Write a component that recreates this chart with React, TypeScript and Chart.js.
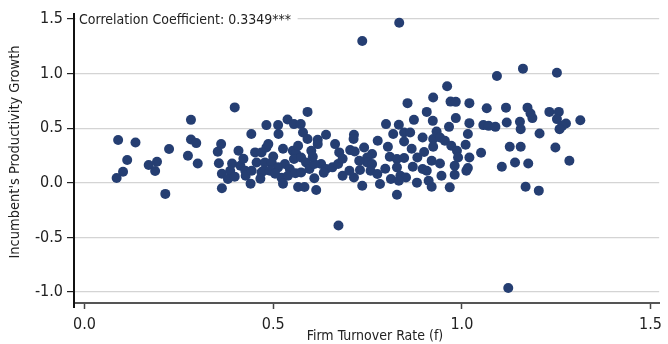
import React, { useEffect, useRef } from "react";
import { Chart, registerables } from "chart.js";

Chart.register(...registerables);

// Firm turnover rate (x) and incumbent productivity growth (y), one entry per observation
const TURNOVER_RATE: number[] = [
  0.089, 0.135, 0.113, 0.102, 0.085, 0.170, 0.192, 0.187, 0.224, 0.214, 0.282, 0.282, 0.296, 0.274, 0.300,
  0.398, 0.442, 0.482, 0.362, 0.353, 0.356, 0.391, 0.364, 0.386, 0.380, 0.398, 0.413, 0.426, 0.427, 0.443,
  0.452, 0.456, 0.469, 0.469, 0.478, 0.364, 0.482,
  0.513, 0.514, 0.538, 0.555, 0.573, 0.591, 0.579, 0.591, 0.618, 0.640, 0.487, 0.500, 0.496, 0.552, 0.561,
  0.601, 0.618, 0.555, 0.574, 0.531, 0.513, 0.544, 0.587, 0.627, 0.474, 0.491, 0.522, 0.539, 0.559, 0.574,
  0.596, 0.609, 0.566, 0.583, 0.614, 0.609,
  0.856, 0.907, 0.923, 0.924, 0.799, 0.833, 0.873, 0.818, 0.847, 0.863, 0.847, 0.896, 0.924, 0.664, 0.675,
  0.714, 0.713, 0.704, 0.716, 0.741, 0.777, 0.762, 0.749, 0.640, 0.657, 0.672, 0.684, 0.714, 0.730, 0.749,
  0.762, 0.758, 0.776, 0.783, 0.809, 0.828, 0.847, 0.828, 0.812, 0.837, 0.852, 0.833, 0.828, 0.870, 0.882,
  0.900, 0.896, 0.920, 0.912, 0.920,
  1.093, 1.162, 0.961, 0.970, 0.984, 1.020, 1.066, 1.117, 1.174, 1.182, 1.187, 0.984, 1.020, 1.057, 1.071,
  1.089, 1.119, 1.154, 1.156, 1.206, 0.966, 0.933, 0.942, 0.955, 0.972, 1.016, 1.010, 0.924, 0.987, 0.990,
  1.020, 1.051, 1.127, 1.156, 0.942, 0.981, 1.016, 1.106, 1.141, 1.176, 0.981, 0.907, 0.968, 1.169, 1.204,
  1.252, 1.232, 1.257, 1.252, 1.276, 1.266, 1.259, 1.314, 1.248, 1.285,
  0.673, 1.123, 0.736, 0.834,
  0.421, 0.466, 0.505, 0.526, 0.566, 0.526, 0.605, 0.634, 0.440, 0.408, 0.684, 0.728, 0.797, 0.804, 0.867,
  0.881, 0.736, 0.702, 1.012, 0.946,
];

const PRODUCTIVITY_GROWTH: number[] = [
  0.392, 0.370, 0.209, 0.102, 0.045, 0.163, 0.194, 0.109, 0.310, -0.101, 0.577, 0.397, 0.364, 0.248, 0.178,
  0.691, 0.447, 0.529, 0.355, 0.285, 0.180, 0.178, 0.084, 0.111, 0.036, 0.057, 0.157, 0.111, 0.066, 0.111,
  0.279, 0.187, 0.279, 0.096, 0.187, -0.050, 0.324,
  0.529, 0.447, 0.581, 0.538, 0.538, 0.650, 0.461, 0.401, 0.395, 0.440, 0.355, 0.241, 0.187, 0.294, 0.267,
  0.294, 0.355, 0.218, 0.233, 0.173, 0.142, 0.127, 0.187, 0.173, 0.111, 0.111, 0.047, 0.066, 0.089, 0.096,
  0.127, 0.043, -0.037, -0.037, -0.065, 0.173,
  0.730, 0.650, 0.568, 0.781, 0.538, 0.532, 0.577, 0.447, 0.461, 0.461, 0.379, 0.416, 0.401, 0.355, 0.279,
  0.440, 0.401, 0.300, 0.288, 0.324, 0.385, 0.264, 0.233, 0.127, 0.142, 0.173, 0.066, 0.050, 0.118, 0.187,
  0.173, 0.111, 0.081, -0.010, 0.239, 0.218, 0.227, 0.142, 0.036, 0.066, 0.050, 0.020, -0.108, 0.148, 0.233,
  0.282, 0.127, 0.203, 0.020, -0.035,
  0.979, 1.046, 0.885, 0.744, 0.742, 0.730, 0.684, 0.689, 0.689, 0.635, 0.593, 0.593, 0.547, 0.529, 0.522,
  0.513, 0.553, 0.559, 0.492, 0.452, 0.513, 0.470, 0.416, 0.385, 0.340, 0.447, 0.349, 0.331, 0.294, 0.233,
  0.233, 0.276, 0.331, 0.331, 0.178, 0.157, 0.136, 0.148, 0.187, 0.178, 0.075, 0.111, -0.041, -0.035, -0.071,
  1.009, 0.650, 0.650, 0.584, 0.543, 0.522, 0.492, 0.574, 0.324, 0.203,
  -0.391, -0.963, 1.299, 1.466,
  0.221, 0.038, 0.084, 0.312, 0.340, -0.007, 0.239, 0.093, -0.007, 0.294, 0.221, 0.203, 0.130, 0.331, 0.312,
  0.002, -0.026, 0.111, 0.111, 0.066,
];

const X_TICKS = [0, 0.5, 1.0, 1.5];
const Y_TICKS = [-1.0, -0.5, 0, 0.5, 1.0, 1.5];
const X_MIN = -0.028;
const X_MAX = 1.523;
const Y_MIN = -1.1;
const Y_MAX = 1.55;

const ANNOTATION = "Correlation Coefficient: 0.3349***";
const X_TITLE = "Firm Turnover Rate (f)";
const Y_TITLE = "Incumbent's Productivity Growth";

const FONT = "'DejaVu Sans Condensed', 'Liberation Sans', sans-serif";
const POINT_COLOR = "#253e72";
const TEXT_COLOR = "#222222";

const overlayPlugin = {
  id: "overlay",
  beforeDatasetsDraw(chart: any) {
    const { ctx, chartArea, scales } = chart;
    const y = scales.y.getPixelForValue(1.5);
    ctx.save();
    ctx.font = `14px ${FONT}`;
    const w = ctx.measureText(ANNOTATION).width;
    ctx.fillStyle = "#ffffff";
    ctx.fillRect(chartArea.left + 1.5, y - 9, w + 10, 19);
    ctx.fillStyle = TEXT_COLOR;
    ctx.textBaseline = "middle";
    ctx.textAlign = "left";
    ctx.fillText(ANNOTATION, chartArea.left + 5, y + 1.5);
    ctx.restore();
  },
  afterDraw(chart: any) {
    const { ctx, chartArea } = chart;
    ctx.save();
    // small extension of the y axis below the x axis
    ctx.strokeStyle = "#111";
    ctx.lineWidth = 2;
    ctx.beginPath();
    ctx.moveTo(chartArea.left, chartArea.bottom);
    ctx.lineTo(chartArea.left, chartArea.bottom + 5);
    ctx.stroke();

    ctx.fillStyle = TEXT_COLOR;
    ctx.font = `14px ${FONT}`;
    ctx.textAlign = "center";
    ctx.textBaseline = "alphabetic";
    ctx.fillText(X_TITLE, 375, 340);

    ctx.translate(15, 152);
    ctx.rotate(-Math.PI / 2);
    ctx.textBaseline = "middle";
    ctx.font = `14.5px ${FONT}`;
    ctx.fillText(Y_TITLE, 0, 0);
    ctx.restore();
  },
};

export default function App() {
  const ref = useRef<HTMLCanvasElement | null>(null);

  useEffect(() => {
    document.body.style.margin = "0";
    const canvas = ref.current;
    if (!canvas) return;
    const points = TURNOVER_RATE.map((x, i) => ({ x, y: PRODUCTIVITY_GROWTH[i] }));
    const chart = new Chart(canvas, {
      type: "scatter",
      data: {
        datasets: [
          {
            data: points,
            backgroundColor: POINT_COLOR,
            borderColor: POINT_COLOR,
            borderWidth: 0,
            pointRadius: 5,
            pointHoverRadius: 5,
          },
        ],
      },
      options: {
        animation: false,
        responsive: false,
        devicePixelRatio: 1,
        layout: { padding: { top: 13, right: 3, left: 0, bottom: 0 } },
        plugins: { legend: { display: false }, tooltip: { enabled: false } },
        scales: {
          x: {
            type: "linear",
            min: X_MIN,
            max: X_MAX,
            afterBuildTicks: (s: any) => {
              s.ticks = X_TICKS.map((v) => ({ value: v }));
            },
            afterFit: (s: any) => {
              s.height = 41;
            },
            ticks: {
              callback: (v: any) => Number(v).toFixed(1),
              font: { family: FONT, size: 16 },
              color: TEXT_COLOR,
              padding: 6,
              maxRotation: 0,
              autoSkip: false,
            },
            grid: { drawOnChartArea: false, tickLength: 6, tickColor: "#444", tickWidth: 1.5 },
            border: { color: "#555", width: 2 },
          },
          y: {
            type: "linear",
            min: Y_MIN,
            max: Y_MAX,
            afterBuildTicks: (s: any) => {
              s.ticks = Y_TICKS.map((v) => ({ value: v }));
            },
            afterFit: (s: any) => {
              s.width = 74;
            },
            ticks: {
              callback: (v: any) => Number(v).toFixed(1),
              font: { family: FONT, size: 16 },
              color: TEXT_COLOR,
              padding: 4,
              autoSkip: false,
            },
            grid: { color: "#d4d4d4", lineWidth: 1.2, tickLength: 7, tickColor: "#222", tickWidth: 1.2 },
            border: { color: "#111", width: 2 },
          },
        },
      },
      plugins: [overlayPlugin],
    });
    return () => chart.destroy();
  }, []);

  return (
    <div style={{ width: 668, height: 344 }}>
      <canvas ref={ref} width={668} height={344} style={{ display: "block" }} />
    </div>
  );
}
